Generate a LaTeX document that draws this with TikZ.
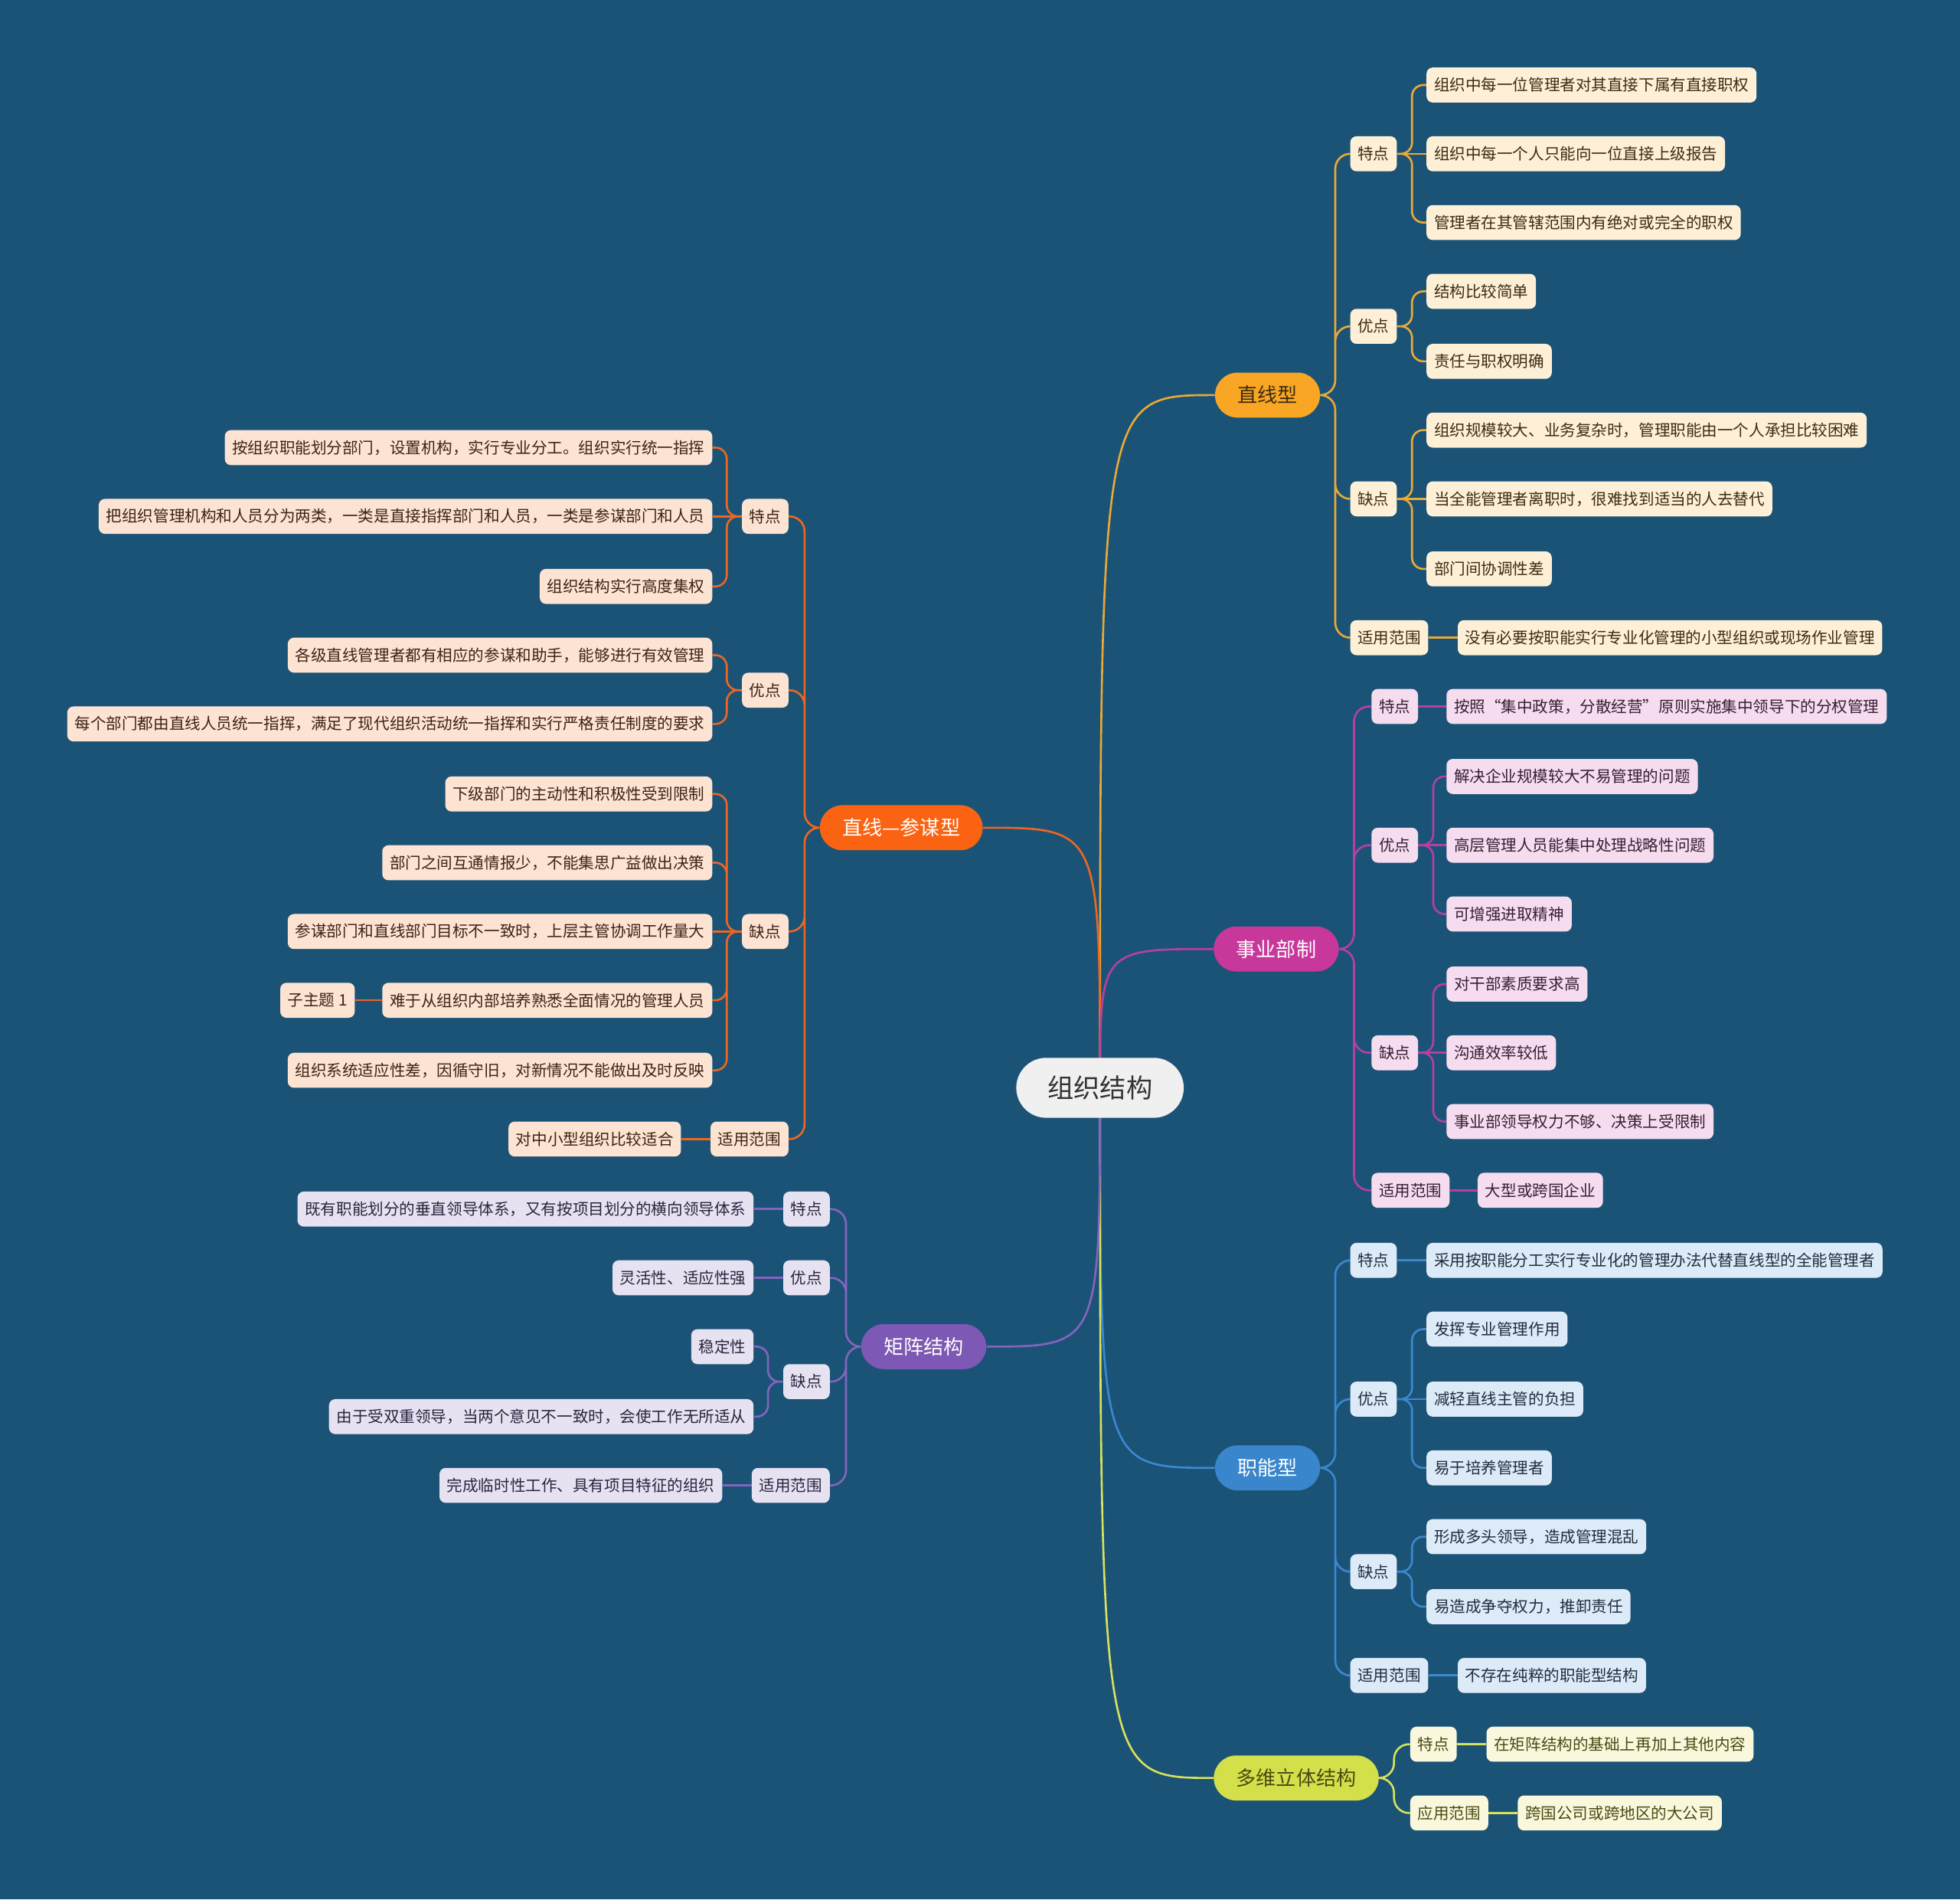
\documentclass[tikz,border=0pt]{standalone}
\usepackage{fontspec}
\setmainfont{Noto Sans CJK SC}
\usepackage{tikz}
\pgfdeclarelayer{bg}
\pgfdeclarelayer{links}
\pgfsetlayers{bg,links,main}

\definecolor{bgblue}{HTML}{1B5377}
\definecolor{rootgray}{HTML}{F0F0F0}
\definecolor{rootink}{HTML}{333333}
\definecolor{zxfill}{HTML}{F8A623}
\definecolor{zxline}{HTML}{EBA935}
\definecolor{zxbox}{HTML}{FDF0D6}
\definecolor{zxink}{HTML}{3D2C12}
\definecolor{zcfill}{HTML}{FA6312}
\definecolor{zcline}{HTML}{EE6620}
\definecolor{zcbox}{HTML}{FDE3D2}
\definecolor{zcink}{HTML}{3D2414}
\definecolor{syfill}{HTML}{C8389A}
\definecolor{syline}{HTML}{B5409F}
\definecolor{sybox}{HTML}{F5DDEF}
\definecolor{syink}{HTML}{3A1E33}
\definecolor{znfill}{HTML}{3A86CC}
\definecolor{znline}{HTML}{3B88D0}
\definecolor{znbox}{HTML}{DDEAF7}
\definecolor{znink}{HTML}{1F2E3F}
\definecolor{dwfill}{HTML}{D4E04A}
\definecolor{dwline}{HTML}{D8E25A}
\definecolor{dwbox}{HTML}{FAF8DC}
\definecolor{dwink}{HTML}{4A4A14}
\definecolor{jzfill}{HTML}{7D58B4}
\definecolor{jzline}{HTML}{8464BC}
\definecolor{jzbox}{HTML}{E7E2F1}
\definecolor{jzink}{HTML}{2C2440}

\begin{document}
\begin{tikzpicture}[x=1pt,y=-1pt,
  root/.style={fill=rootgray,text=rootink,rounded corners=24pt,minimum height=48pt,inner xsep=25pt,font=\fontsize{21}{24}\selectfont},
  main/.style={rounded corners=18pt,minimum height=36pt,inner xsep=18pt,font=\fontsize{16}{19}\selectfont},
  box/.style={rounded corners=5pt,minimum height=28pt,inner xsep=6pt,inner ysep=2pt,font=\fontsize{12.6}{15}\selectfont},
  zxb/.style={box,fill=zxbox,text=zxink},
  zcb/.style={box,fill=zcbox,text=zcink},
  syb/.style={box,fill=sybox,text=syink},
  znb/.style={box,fill=znbox,text=znink},
  dwb/.style={box,fill=dwbox,text=dwink},
  jzb/.style={box,fill=jzbox,text=jzink},
  link/.style={line width=1.6pt},
  rtree/.style={rounded corners=9pt,to path={-- ++(12,0) |- (\tikztotarget)}},
  ltree/.style={rounded corners=9pt,to path={-- ++(-12,0) |- (\tikztotarget)}}]
\useasboundingbox (0,0) rectangle (1568,1519);
\begin{pgfonlayer}{bg}
\fill[bgblue] (0,0) rectangle (1568,1519);
\end{pgfonlayer}

\node[root] (root) at (880,870) {组织结构};

% 直线型
\node[main,fill=zxfill,text=zxink] (zx) at (1014,316) {直线型};
\node[zxb,anchor=west] (zx-td) at (1080,123) {特点};
\node[zxb,anchor=west] (zx-yd) at (1080,261) {优点};
\node[zxb,anchor=west] (zx-qd) at (1080,399) {缺点};
\node[zxb,anchor=west] (zx-fw) at (1080,510) {适用范围};
\node[zxb,anchor=west] (zx-td1) at (1141,68) {组织中每一位管理者对其直接下属有直接职权};
\node[zxb,anchor=west] (zx-td2) at (1141,123) {组织中每一个人只能向一位直接上级报告};
\node[zxb,anchor=west] (zx-td3) at (1141,178) {管理者在其管辖范围内有绝对或完全的职权};
\node[zxb,anchor=west] (zx-yd1) at (1141,233) {结构比较简单};
\node[zxb,anchor=west] (zx-yd2) at (1141,289) {责任与职权明确};
\node[zxb,anchor=west] (zx-qd1) at (1141,344) {组织规模较大、业务复杂时，管理职能由一个人承担比较困难};
\node[zxb,anchor=west] (zx-qd2) at (1141,399) {当全能管理者离职时，很难找到适当的人去替代};
\node[zxb,anchor=west] (zx-qd3) at (1141,455) {部门间协调性差};
\node[zxb,anchor=west] (zx-fw1) at (1166,510) {没有必要按职能实行专业化管理的小型组织或现场作业管理};

% 直线—参谋型
\node[main,fill=zcfill,text=white] (zc) at (721,662) {直线—参谋型};
\node[zcb,anchor=east] (zc-td) at (631,413) {特点};
\node[zcb,anchor=east] (zc-yd) at (631,552) {优点};
\node[zcb,anchor=east] (zc-qd) at (631,745) {缺点};
\node[zcb,anchor=east] (zc-fw) at (631,911) {适用范围};
\node[zcb,anchor=east] (zc-td1) at (570,358) {按组织职能划分部门，设置机构，实行专业分工。组织实行统一指挥};
\node[zcb,anchor=east] (zc-td2) at (570,413) {把组织管理机构和人员分为两类，一类是直接指挥部门和人员，一类是参谋部门和人员};
\node[zcb,anchor=east] (zc-td3) at (570,469) {组织结构实行高度集权};
\node[zcb,anchor=east] (zc-yd1) at (570,524) {各级直线管理者都有相应的参谋和助手，能够进行有效管理};
\node[zcb,anchor=east] (zc-yd2) at (570,579) {每个部门都由直线人员统一指挥，满足了现代组织活动统一指挥和实行严格责任制度的要求};
\node[zcb,anchor=east] (zc-qd1) at (570,635) {下级部门的主动性和积极性受到限制};
\node[zcb,anchor=east] (zc-qd2) at (570,690) {部门之间互通情报少，不能集思广益做出决策};
\node[zcb,anchor=east] (zc-qd3) at (570,745) {参谋部门和直线部门目标不一致时，上层主管协调工作量大};
\node[zcb,anchor=east] (zc-qd4) at (570,800) {难于从组织内部培养熟悉全面情况的管理人员};
\node[zcb,anchor=east] (zc-qd5) at (570,856) {组织系统适应性差，因循守旧，对新情况不能做出及时反映};
\node[zcb,anchor=east] (zc-sub) at (284,800) {子主题 1};
\node[zcb,anchor=east] (zc-fw1) at (545,911) {对中小型组织比较适合};

% 事业部制
\node[main,fill=syfill,text=white] (sy) at (1021,759) {事业部制};
\node[syb,anchor=west] (sy-td) at (1097,565) {特点};
\node[syb,anchor=west] (sy-yd) at (1097,676) {优点};
\node[syb,anchor=west] (sy-qd) at (1097,842) {缺点};
\node[syb,anchor=west] (sy-fw) at (1097,952) {适用范围};
\node[syb,anchor=west] (sy-td1) at (1157,565) {按照“集中政策，分散经营”原则实施集中领导下的分权管理};
\node[syb,anchor=west] (sy-yd1) at (1157,621) {解决企业规模较大不易管理的问题};
\node[syb,anchor=west] (sy-yd2) at (1157,676) {高层管理人员能集中处理战略性问题};
\node[syb,anchor=west] (sy-yd3) at (1157,731) {可增强进取精神};
\node[syb,anchor=west] (sy-qd1) at (1157,787) {对干部素质要求高};
\node[syb,anchor=west] (sy-qd2) at (1157,842) {沟通效率较低};
\node[syb,anchor=west] (sy-qd3) at (1157,897) {事业部领导权力不够、决策上受限制};
\node[syb,anchor=west] (sy-fw1) at (1182,952) {大型或跨国企业};

% 职能型
\node[main,fill=znfill,text=white] (zn) at (1014,1174) {职能型};
\node[znb,anchor=west] (zn-td) at (1080,1008) {特点};
\node[znb,anchor=west] (zn-yd) at (1080,1119) {优点};
\node[znb,anchor=west] (zn-qd) at (1080,1257) {缺点};
\node[znb,anchor=west] (zn-fw) at (1080,1340) {适用范围};
\node[znb,anchor=west] (zn-td1) at (1141,1008) {采用按职能分工实行专业化的管理办法代替直线型的全能管理者};
\node[znb,anchor=west] (zn-yd1) at (1141,1063) {发挥专业管理作用};
\node[znb,anchor=west] (zn-yd2) at (1141,1119) {减轻直线主管的负担};
\node[znb,anchor=west] (zn-yd3) at (1141,1174) {易于培养管理者};
\node[znb,anchor=west] (zn-qd1) at (1141,1229) {形成多头领导，造成管理混乱};
\node[znb,anchor=west] (zn-qd2) at (1141,1285) {易造成争夺权力，推卸责任};
\node[znb,anchor=west] (zn-fw1) at (1166,1340) {不存在纯粹的职能型结构};

% 多维立体结构
\node[main,fill=dwfill,text=dwink] (dw) at (1037,1422) {多维立体结构};
\node[dwb,anchor=west] (dw-td) at (1128,1395) {特点};
\node[dwb,anchor=west] (dw-fw) at (1128,1450) {应用范围};
\node[dwb,anchor=west] (dw-td1) at (1189,1395) {在矩阵结构的基础上再加上其他内容};
\node[dwb,anchor=west] (dw-fw1) at (1214,1450) {跨国公司或跨地区的大公司};

% 矩阵结构
\node[main,fill=jzfill,text=white] (jz) at (739,1077) {矩阵结构};
\node[jzb,anchor=east] (jz-td) at (664,967) {特点};
\node[jzb,anchor=east] (jz-yd) at (664,1022) {优点};
\node[jzb,anchor=east] (jz-qd) at (664,1105) {缺点};
\node[jzb,anchor=east] (jz-fw) at (664,1188) {适用范围};
\node[jzb,anchor=east] (jz-td1) at (603,967) {既有职能划分的垂直领导体系，又有按项目划分的横向领导体系};
\node[jzb,anchor=east] (jz-yd1) at (603,1022) {灵活性、适应性强};
\node[jzb,anchor=east] (jz-qd1) at (603,1077) {稳定性};
\node[jzb,anchor=east] (jz-qd2) at (603,1133) {由于受双重领导，当两个意见不一致时，会使工作无所适从};
\node[jzb,anchor=east] (jz-fw1) at (578,1188) {完成临时性工作、具有项目特征的组织};

\begin{pgfonlayer}{links}
% main branches
\draw[link,zxline] (root.center) .. controls (880,316) .. (zx.west);
\draw[link,zcline] (root.center) .. controls (880,662) .. (zc.east);
\draw[link,syline] (root.center) .. controls (880,759) .. (sy.west);
\draw[link,znline] (root.center) .. controls (880,1174) .. (zn.west);
\draw[link,dwline] (root.center) .. controls (880,1422) .. (dw.west);
\draw[link,jzline] (root.center) .. controls (880,1077) .. (jz.east);
% 直线型
\draw[link,zxline,rtree,rounded corners=12pt] (zx.east) to (zx-td.west) (zx.east) to (zx-yd.west)
  (zx.east) to (zx-qd.west) (zx.east) to (zx-fw.west);
\draw[link,zxline,rtree] (zx-td.east) to (zx-td1.west) (zx-td.east) to (zx-td3.west)
  (zx-yd.east) to (zx-yd1.west) (zx-yd.east) to (zx-yd2.west)
  (zx-qd.east) to (zx-qd1.west) (zx-qd.east) to (zx-qd3.west);
\draw[link,zxline] (zx-td) -- (zx-td2) (zx-qd) -- (zx-qd2) (zx-fw) -- (zx-fw1);
% 直线—参谋型
\draw[link,zcline,ltree,rounded corners=12pt] (zc.west) to (zc-td.east) (zc.west) to (zc-yd.east)
  (zc.west) to (zc-qd.east) (zc.west) to (zc-fw.east);
\draw[link,zcline,ltree] (zc-td.west) to (zc-td1.east) (zc-td.west) to (zc-td3.east)
  (zc-yd.west) to (zc-yd1.east) (zc-yd.west) to (zc-yd2.east)
  (zc-qd.west) to (zc-qd1.east) (zc-qd.west) to (zc-qd2.east)
  (zc-qd.west) to (zc-qd4.east) (zc-qd.west) to (zc-qd5.east);
\draw[link,zcline] (zc-td) -- (zc-td2) (zc-qd) -- (zc-qd3) (zc-qd4) -- (zc-sub) (zc-fw) -- (zc-fw1);
% 事业部制
\draw[link,syline,rtree,rounded corners=12pt] (sy.east) to (sy-td.west) (sy.east) to (sy-yd.west)
  (sy.east) to (sy-qd.west) (sy.east) to (sy-fw.west);
\draw[link,syline,rtree] (sy-yd.east) to (sy-yd1.west) (sy-yd.east) to (sy-yd3.west)
  (sy-qd.east) to (sy-qd1.west) (sy-qd.east) to (sy-qd3.west);
\draw[link,syline] (sy-td) -- (sy-td1) (sy-yd) -- (sy-yd2) (sy-qd) -- (sy-qd2) (sy-fw) -- (sy-fw1);
% 职能型
\draw[link,znline,rtree,rounded corners=12pt] (zn.east) to (zn-td.west) (zn.east) to (zn-yd.west)
  (zn.east) to (zn-qd.west) (zn.east) to (zn-fw.west);
\draw[link,znline,rtree] (zn-yd.east) to (zn-yd1.west) (zn-yd.east) to (zn-yd3.west)
  (zn-qd.east) to (zn-qd1.west) (zn-qd.east) to (zn-qd2.west);
\draw[link,znline] (zn-td) -- (zn-td1) (zn-yd) -- (zn-yd2) (zn-fw) -- (zn-fw1);
% 多维立体结构
\draw[link,dwline,rtree,rounded corners=12pt] (dw.east) to (dw-td.west) (dw.east) to (dw-fw.west);
\draw[link,dwline] (dw-td) -- (dw-td1) (dw-fw) -- (dw-fw1);
% 矩阵结构
\draw[link,jzline,ltree,rounded corners=12pt] (jz.west) to (jz-td.east) (jz.west) to (jz-yd.east)
  (jz.west) to (jz-qd.east) (jz.west) to (jz-fw.east);
\draw[link,jzline,ltree] (jz-qd.west) to (jz-qd1.east) (jz-qd.west) to (jz-qd2.east);
\draw[link,jzline] (jz-td) -- (jz-td1) (jz-yd) -- (jz-yd1) (jz-fw) -- (jz-fw1);
\end{pgfonlayer}
\end{tikzpicture}
\end{document}
